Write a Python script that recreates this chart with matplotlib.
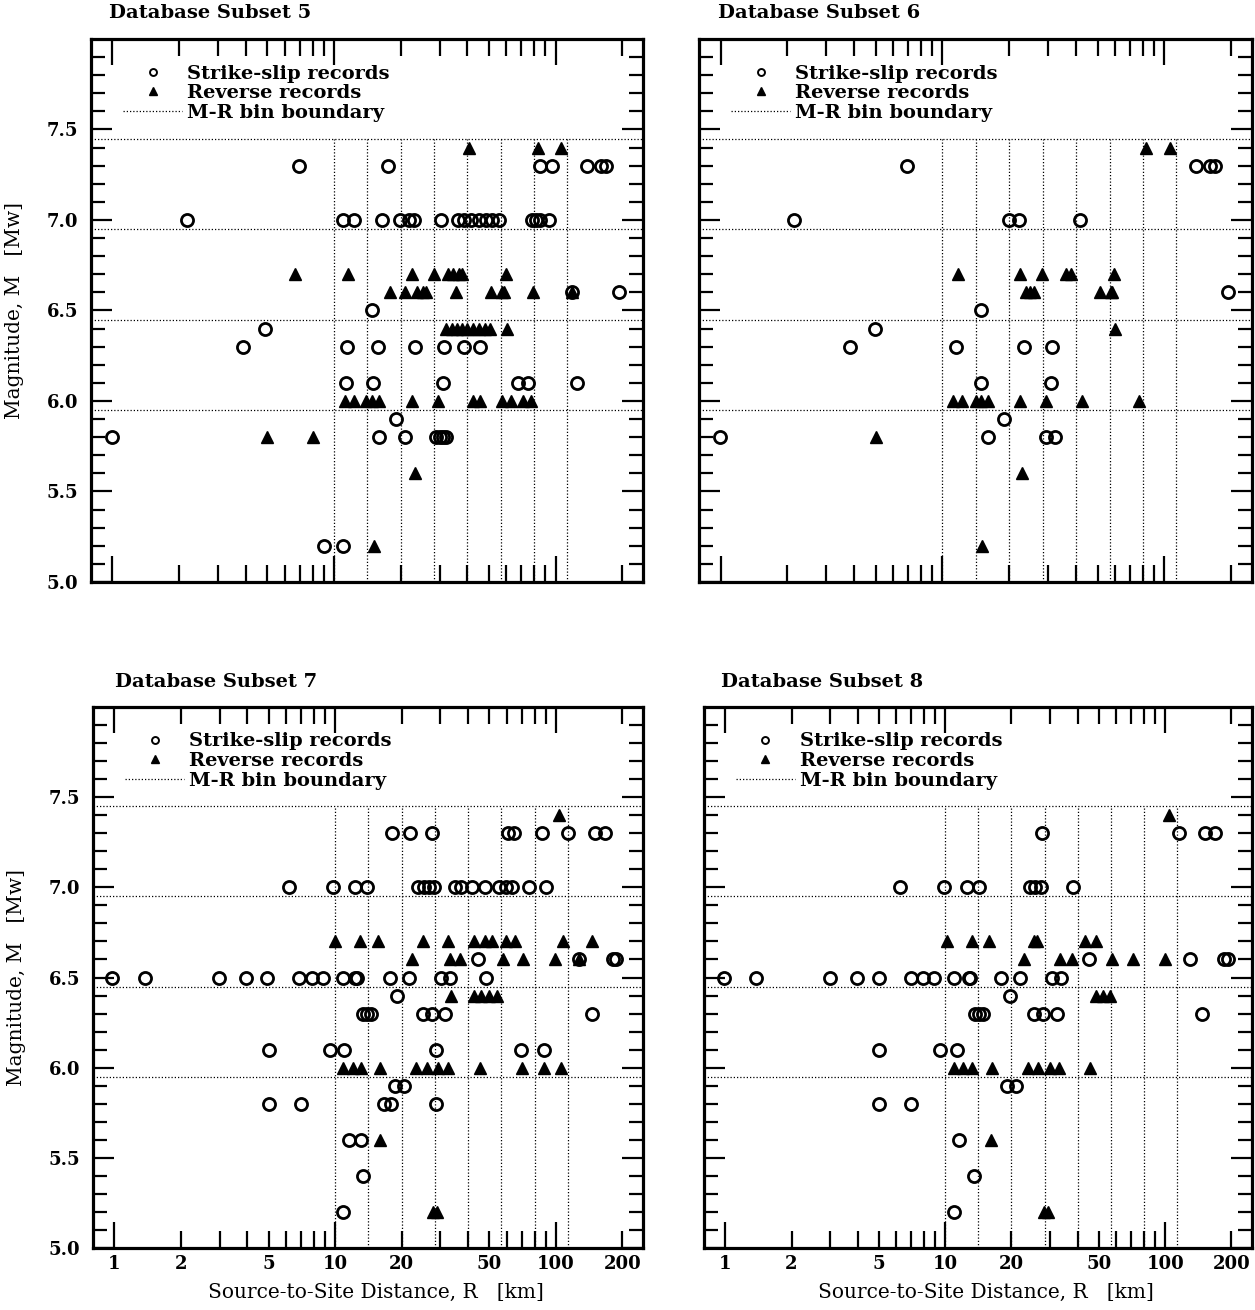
import numpy as np
import matplotlib
matplotlib.use("Agg")
import matplotlib.pyplot as plt
from matplotlib.ticker import FixedLocator, FuncFormatter
from matplotlib.lines import Line2D

plt.rcParams["font.family"] = "DejaVu Serif"
plt.rcParams["font.weight"] = "bold"

# M-R bin boundaries
bin_r = [10.0, 14.14, 20.0, 28.28, 40.0, 56.57, 80.0, 113.1]
bin_m = [5.95, 6.45, 6.95, 7.45]

# records per subset: magnitude -> source-to-site distances [km]
ss5 = {
    7.3: [6.95, 17.6, 84.7, 96.3, 139, 160, 168],
    7.0: [2.18, 11.0, 12.3, 16.5, 19.9, 21.9, 22.9, 30.3, 36.2, 38.7, 41.7,
          45.0, 48.5, 51.4, 55.4, 78.3, 81.3, 85.3, 93.0],
    6.6: [119, 193],
    6.5: [14.8],
    6.4: [4.9],
    6.3: [3.9, 11.4, 15.8, 23.3, 31.5, 38.4, 45.4],
    6.1: [11.3, 15.0, 30.9, 67.6, 75.4, 125],
    5.9: [19.0],
    5.8: [1.0, 16.0, 21.0, 29.0, 30.0, 31.0, 32.0],
    5.2: [9.0, 11.0],
}
rv5 = {
    7.4: [40.7, 83, 106],
    6.7: [6.67, 11.6, 22.6, 28.4, 32.7, 34.6, 36.6, 38.0, 59.7],
    6.6: [17.8, 20.8, 23.6, 25.1, 25.9, 35.7, 51.0, 57.1, 58.6, 79.2, 119],
    6.4: [32, 34, 36, 38, 40, 42.5, 45, 48, 50.5, 60.1],
    6.0: [11.2, 12.3, 13.9, 14.8, 16.0, 22.4, 29.4, 42.3, 45.5, 57.5, 63.1,
          71.3, 77.7],
    5.8: [5.0, 8.07],
    5.6: [23.1],
    5.2: [15.1],
}

ss6 = {
    7.3: [6.95, 139, 160, 169],
    7.0: [2.14, 20.0, 22.1, 41.8],
    6.6: [193],
    6.5: [14.9],
    6.4: [4.98],
    6.3: [3.84, 11.5, 23.3, 31.3],
    6.1: [14.9, 30.8],
    5.9: [18.9],
    5.8: [0.99, 16.0, 29.4, 32.0],
}
rv6 = {
    7.4: [83, 106],
    6.7: [11.7, 22.4, 28.1, 36.0, 37.8, 59.0],
    6.6: [23.7, 24.8, 25.8, 51.3, 57.3, 58.3],
    6.4: [59.9],
    6.0: [11.2, 12.3, 14.1, 14.9, 16.0, 22.4, 29.4, 42.6, 76.5],
    5.8: [5.03],
    5.6: [22.9],
    5.2: [15.0],
}

ss7 = {
    7.3: [18.1, 21.8, 27.4, 60.4, 64.4, 86.1, 113, 150, 166],
    7.0: [6.19, 9.8, 12.3, 14.0, 23.8, 25.3, 26.6, 28.1, 34.8, 37.3, 41.8,
          47.7, 55.4, 59.7, 63.1, 75.3, 90.3],
    6.6: [44.2, 127, 181, 188],
    6.5: [0.98, 1.38, 2.98, 3.94, 4.93, 6.87, 7.84, 8.84, 10.8, 12.3, 12.6,
          17.8, 21.6, 30.3, 33.3, 48.0],
    6.4: [19.1],
    6.3: [13.4, 14.0, 14.6, 25.1, 27.6, 31.5, 146],
    6.1: [4.99, 9.45, 11.0, 28.7, 69.5, 88.0],
    5.9: [18.7, 20.6],
    5.8: [4.99, 7.0, 16.7, 17.9, 28.7],
    5.6: [11.5, 13.1],
    5.4: [13.4],
    5.2: [10.8],
}
rv7 = {
    7.4: [103],
    6.7: [10.0, 13.0, 15.6, 25.1, 32.5, 42.5, 47.7, 51.4, 59.7, 65.2, 108, 145],
    6.6: [22.4, 33.1, 36.9, 57.5, 70.8, 99.3, 127],
    6.4: [33.6, 42.5, 45.9, 50.0, 54.3],
    6.0: [10.9, 12.0, 13.1, 16.0, 23.3, 26.1, 29.3, 32.5, 45.1, 70.0, 88.0, 105],
    5.6: [16.0],
    5.2: [27.8, 28.9],
}

ss8 = {
    7.3: [27.5, 115, 152, 169],
    7.0: [6.24, 9.9, 12.6, 14.3, 24.4, 25.6, 27.2, 38.2],
    6.6: [44.8, 129, 185, 192],
    6.5: [0.99, 1.38, 2.98, 3.96, 5.0, 6.97, 7.93, 8.92, 11.0, 12.8, 13.0,
          18.0, 21.8, 30.6, 33.6],
    6.4: [19.6],
    6.3: [13.7, 14.3, 14.8, 25.3, 27.7, 32.1, 147],
    6.1: [5.0, 9.5, 11.3],
    5.9: [19.1, 21.0],
    5.8: [5.0, 7.0],
    5.6: [11.6],
    5.4: [13.5],
    5.2: [10.9],
}
rv8 = {
    7.4: [104],
    6.7: [10.2, 13.2, 15.8, 25.3, 26.0, 43.2, 48.2],
    6.6: [22.8, 33.3, 37.5, 57.3, 71.0, 99.6],
    6.4: [48.2, 51.9, 55.8],
    6.0: [11.0, 12.1, 13.2, 16.3, 23.8, 26.5, 29.8, 33.0, 45.6],
    5.6: [16.1],
    5.2: [28.2, 29.3],
}

x_major = [1, 10, 100]
x_minor = [2, 3, 4, 5, 6, 7, 8, 9, 20, 30, 40, 50, 60, 70, 80, 90, 200]
x_minor_labeled = [2, 5, 20, 50, 200]
y_major = [5.0, 5.5, 6.0, 6.5, 7.0, 7.5]
y_minor = [5.1, 5.2, 5.3, 5.4, 5.6, 5.7, 5.8, 5.9, 6.1, 6.2, 6.3, 6.4, 6.6,
           6.7, 6.8, 6.9, 7.1, 7.2, 7.3, 7.4, 7.6, 7.7, 7.8, 7.9]

W, H = 1255, 1310
FS = 14
dots = (0, (1, 1.6))


def make_axes(fig, left, right, top, bottom):
    return fig.add_axes([left / W, 1 - bottom / H, (right - left) / W, (bottom - top) / H])


def draw_panel(ax, ss, rv, title, title_x, show_x, show_y):
    for m in bin_m:
        ax.axhline(m, color="k", lw=0.9, ls=dots)
    ax.vlines(bin_r, 5.0, bin_m[-1], colors="k", lw=0.9, linestyles=[dots])

    for m, rs in ss.items():
        ax.plot(rs, [m] * len(rs), "o", mfc="none", mec="k", ms=8.7, mew=2.0, ls="none")
    for m, rs in rv.items():
        ax.plot(rs, [m] * len(rs), "^", color="k", ms=8, ls="none")

    ax.set_xscale("log")
    ax.set_xlim(0.8, 248)
    ax.set_ylim(5.0, 8.0)
    ax.xaxis.set_major_locator(FixedLocator(x_major))
    ax.xaxis.set_minor_locator(FixedLocator(x_minor))
    ax.xaxis.set_major_formatter(FuncFormatter(lambda v, p: f"{v:g}"))
    ax.xaxis.set_minor_formatter(
        FuncFormatter(lambda v, p: f"{v:g}" if round(v) in x_minor_labeled else ""))
    ax.yaxis.set_major_locator(FixedLocator(y_major))
    ax.yaxis.set_minor_locator(FixedLocator(y_minor))
    ax.yaxis.set_major_formatter(FuncFormatter(lambda v, p: f"{v:.1f}"))

    ax.tick_params(which="both", direction="in", top=True, right=True, width=1.6,
                   labelsize=13, labelbottom=show_x, labelleft=show_y)
    ax.tick_params(axis="x", which="major", length=19, pad=5)
    ax.tick_params(axis="x", which="minor", length=12, pad=5)
    ax.tick_params(axis="y", which="major", length=15, pad=9)
    ax.tick_params(axis="y", which="minor", length=10, pad=9)
    for s in ax.spines.values():
        s.set_linewidth(2.3)

    if show_y:
        ax.set_ylabel("Magnitude, M   [Mw]", fontsize=14.5)
        ax.yaxis.set_label_coords(-0.122, 0.5)
    if show_x:
        ax.set_xlabel("Source-to-Site Distance, R   [km]", fontsize=14.5)
        ax.xaxis.set_label_coords(0.515, -0.064)

    ax.text(title_x, 1.047, title, transform=ax.transAxes, ha="left", va="center",
            fontsize=FS)

    handles = [
        Line2D([], [], marker="o", mfc="none", mec="k", ms=5, mew=1.4, ls="none"),
        Line2D([], [], marker="^", color="k", ms=5.5, ls="none"),
        Line2D([], [], color="k", lw=0.9, ls=dots),
    ]
    ax.legend(handles, ["Strike-slip records", "Reverse records", "M-R bin boundary"],
              loc="upper left", bbox_to_anchor=(0.058, 0.953), frameon=False,
              borderaxespad=0, borderpad=0, handlelength=3.05, handletextpad=0.25,
              labelspacing=0.08, prop={"size": FS, "weight": "bold"})


fig = plt.figure(figsize=(W / 100, H / 100), dpi=100)

ax5 = make_axes(fig, 91, 643, 39, 582)
ax6 = make_axes(fig, 699, 1252, 39, 582)
ax7 = make_axes(fig, 93, 643, 707, 1248)
ax8 = make_axes(fig, 704, 1252, 707, 1248)

draw_panel(ax5, ss5, rv5, "Database Subset 5", 0.033, False, True)
draw_panel(ax6, ss6, rv6, "Database Subset 6", 0.034, False, False)
draw_panel(ax7, ss7, rv7, "Database Subset 7", 0.040, True, True)
draw_panel(ax8, ss8, rv8, "Database Subset 8", 0.031, True, False)

fig.savefig("out.png", dpi=100)
